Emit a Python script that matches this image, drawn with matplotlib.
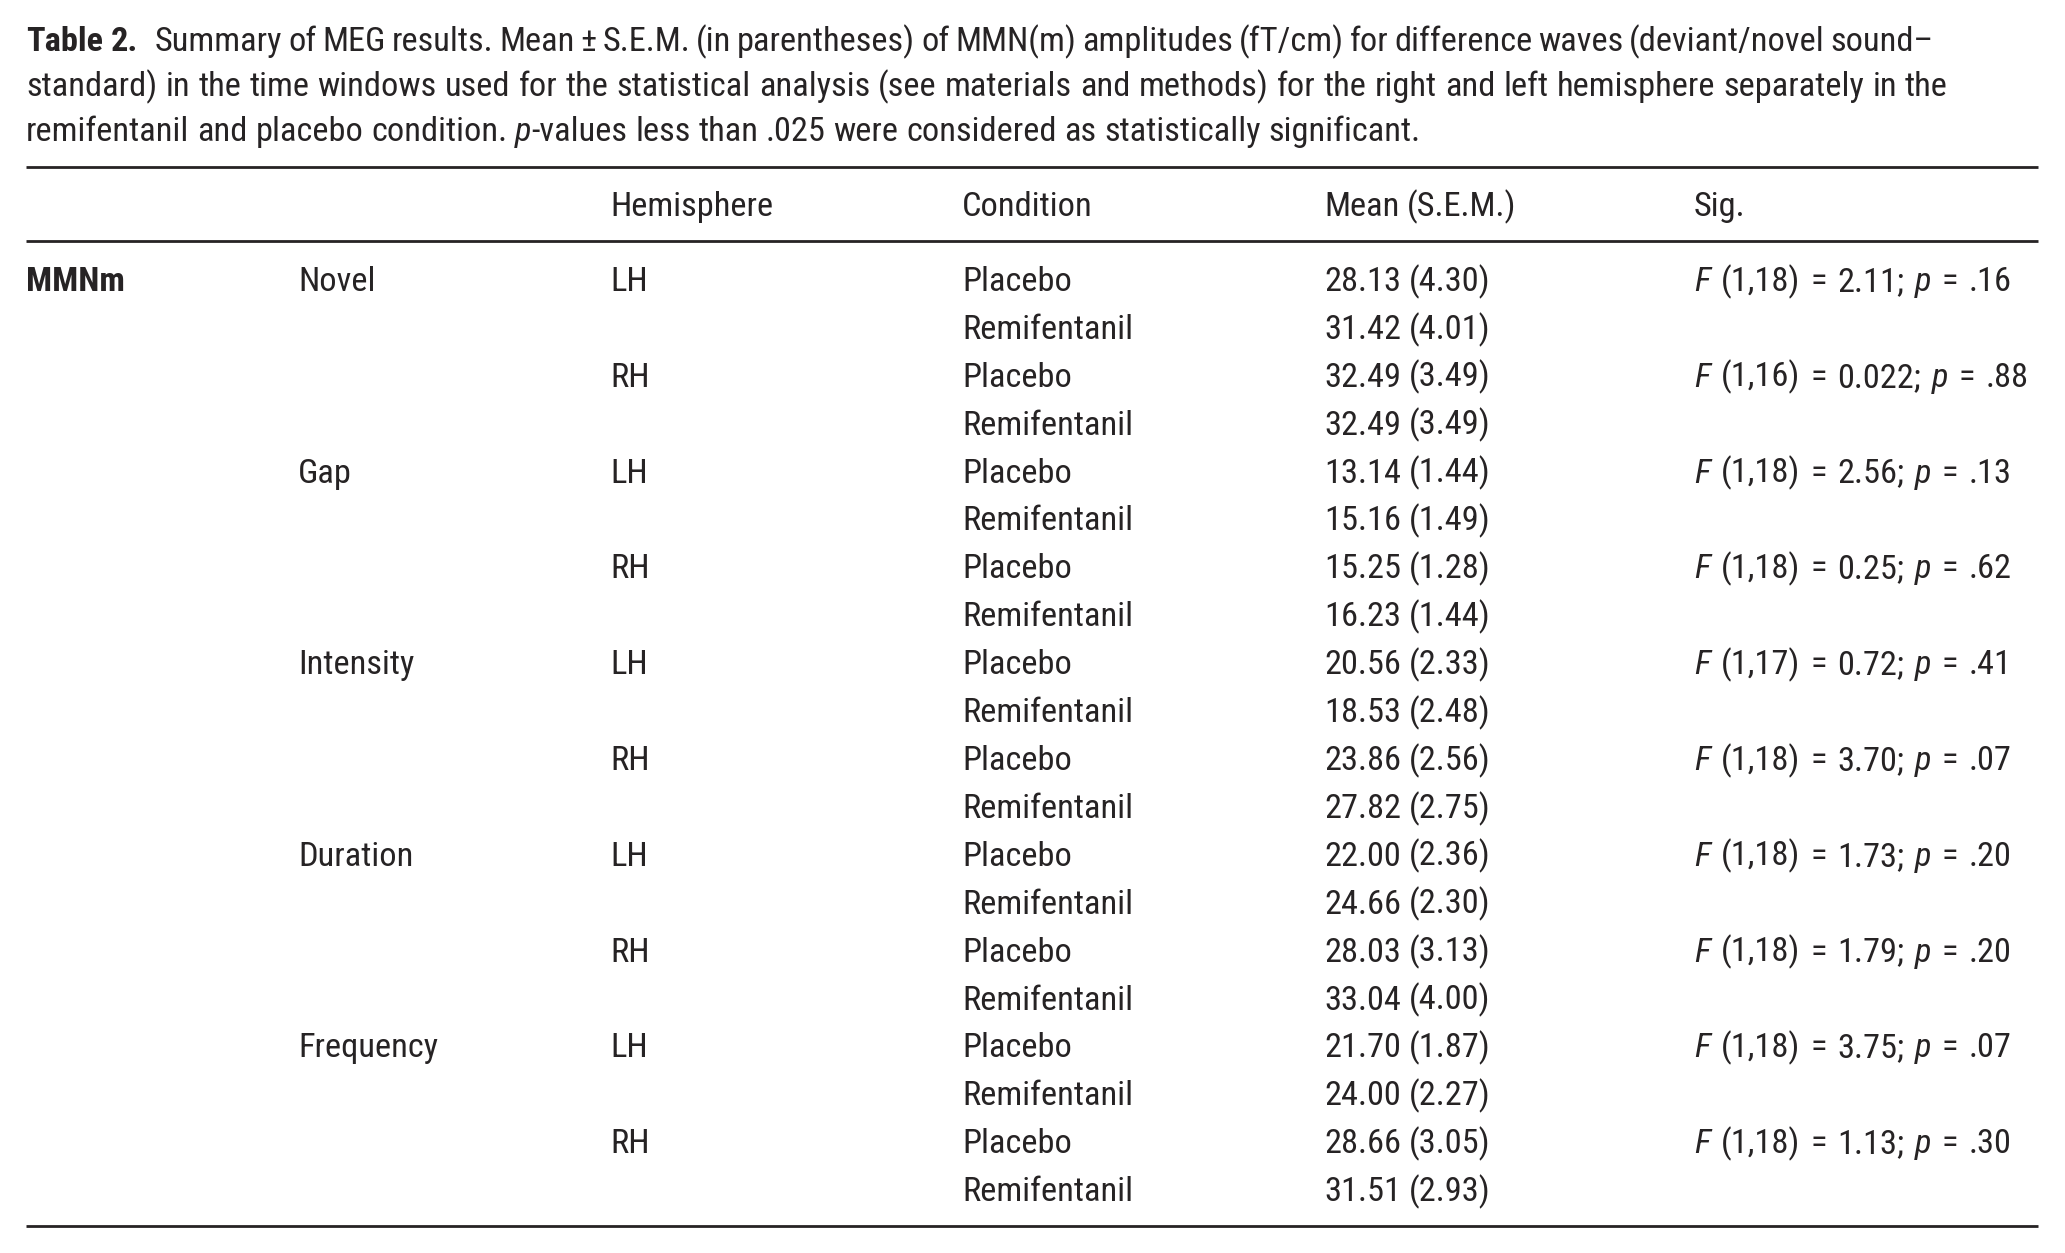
import matplotlib
matplotlib.use("Agg")
import matplotlib.pyplot as plt
from matplotlib import font_manager

# Table data
stimuli = ["Novel", "Gap", "Intensity", "Duration", "Frequency"]
hemispheres = ["LH", "RH"]
conditions = ["Placebo", "Remifentanil"]
means = [28.13, 31.42, 32.49, 32.49, 13.14, 15.16, 15.25, 16.23, 20.56, 18.53,
         23.86, 27.82, 22.00, 24.66, 28.03, 33.04, 21.70, 24.00, 28.66, 31.51]
sems = [4.30, 4.01, 3.49, 3.49, 1.44, 1.49, 1.28, 1.44, 2.33, 2.48,
        2.56, 2.75, 2.36, 2.30, 3.13, 4.00, 1.87, 2.27, 3.05, 2.93]
f_df = ["1,18", "1,16", "1,18", "1,18", "1,17", "1,18", "1,18", "1,18", "1,18", "1,18"]
f_vals = ["2.11", "0.022", "2.56", "0.25", "0.72", "3.70", "1.73", "1.79", "3.75", "1.13"]
p_vals = [".16", ".88", ".13", ".62", ".41", ".07", ".20", ".20", ".07", ".30"]
headers = ["Hemisphere", "Condition", "Mean (S.E.M.)", "Sig."]
group_label = "MMNm"

table_label = "Table 2."
caption = [
    [("Summary of MEG results. Mean \u00b1 S.E.M. (in parentheses) of MMN(m) amplitudes "
      "(fT/cm) for difference waves (deviant/novel sound\u2013", "normal", "normal")],
    [("standard) in the time windows used for the statistical analysis (see materials and "
      "methods) for the right and left hemisphere separately in the", "normal", "normal")],
    [("remifentanil and placebo condition. ", "normal", "normal"),
     ("p", "normal", "italic"),
     ("-values less than .025 were considered as statistically significant.", "normal", "normal")],
]

INK = "#262324"
W, H = 2065, 1253

installed = {f.name for f in font_manager.fontManager.ttflist}
FONT = "DejaVu Sans"
for name in ["Roboto Condensed", "Liberation Sans Narrow", "Open Sans Condensed",
             "Noto Sans", "Roboto", "Liberation Sans"]:
    if name in installed:
        FONT = name
        break

fig = plt.figure(figsize=(W / 100, H / 100), dpi=100)
ax = fig.add_axes([0, 0, 1, 1])
ax.set_xlim(0, W)
ax.set_ylim(H, 0)
ax.axis("off")
renderer = fig.canvas.get_renderer()


def text_width(s, weight, style, size):
    t1 = ax.text(0, 0, s + "|", fontsize=size, fontweight=weight, fontstyle=style, family=FONT)
    t2 = ax.text(0, 0, "|", fontsize=size, fontweight=weight, fontstyle=style, family=FONT)
    w = t1.get_window_extent(renderer).width - t2.get_window_extent(renderer).width
    t1.remove()
    t2.remove()
    return w


def tokens(runs, size):
    out = []
    for s, wt, st in runs:
        parts = s.split(" ")
        for j, p in enumerate(parts):
            if p:
                out.append((p, wt, st, text_width(p, wt, st, size), False))
            if j < len(parts) - 1:
                out.append((" ", wt, st, text_width(" ", wt, st, size), True))
    return out


def natural(runs, size):
    tk = tokens(runs, size)
    return sum(t[3] for t in tk), sum(1 for t in tk if t[4])


def draw_runs(x, y, runs, size, extra=0.0):
    for s, wt, st, w, is_space in tokens(runs, size):
        if is_space:
            x += w + extra
            continue
        ax.text(x, y, s, fontsize=size, fontweight=wt, fontstyle=st, family=FONT,
                color=INK, ha="left", va="baseline")
        x += w


def sig_runs(k):
    return [("F", "normal", "italic"),
            (" (%s) = %s; " % (f_df[k], f_vals[k]), "normal", "normal"),
            ("p", "normal", "italic"),
            (" = %s" % p_vals[k], "normal", "normal")]


# fit the font size to the width of the last caption line
size = 20
w, _ = natural(caption[2], size)
size = size * 1395 / w

# caption: left start and right end of each line
cap_x = [155, 26, 26]
cap_end = [1934, 1948, 1421]
cap_base = [51, 96, 141]
draw_runs(26, cap_base[0], [(table_label, "bold", "normal")], size)
for line, xs, xe, yb in zip(caption, cap_x, cap_end, cap_base):
    nw, ns = natural(line, size)
    draw_runs(xs, yb, line, size, (xe - xs - nw) / ns)

# rules
for yr in [167, 241, 1226]:
    ax.plot([26, 2038], [yr, yr], color=INK, lw=2.0, solid_capstyle="butt")

col_x = [26, 298, 610, 962, 1324, 1694]
for hx, lab in zip(col_x[2:], headers):
    draw_runs(hx, 216, [(lab, "normal", "normal")], size)

# extra word space in the Sig. column, matched on the first entry
nw, ns = natural(sig_runs(0), size)
sig_extra = (318 - nw) / ns

row0, step = 291, 47.9
draw_runs(col_x[0], row0, [(group_label, "bold", "normal")], size)

i = 0
for si, stim in enumerate(stimuli):
    for hi, hem in enumerate(hemispheres):
        k = si * 2 + hi
        for ci, cond in enumerate(conditions):
            yb = row0 + i * step
            if hi == 0 and ci == 0:
                draw_runs(col_x[1], yb, [(stim, "normal", "normal")], size)
            if ci == 0:
                draw_runs(col_x[2], yb, [(hem, "normal", "normal")], size)
                draw_runs(col_x[5], yb, sig_runs(k), size, sig_extra)
            draw_runs(col_x[3], yb, [(cond, "normal", "normal")], size)
            draw_runs(col_x[4], yb, [("%.2f (%.2f)" % (means[i], sems[i]), "normal", "normal")], size)
            i += 1

fig.savefig("out.png", dpi=100, facecolor="white")
